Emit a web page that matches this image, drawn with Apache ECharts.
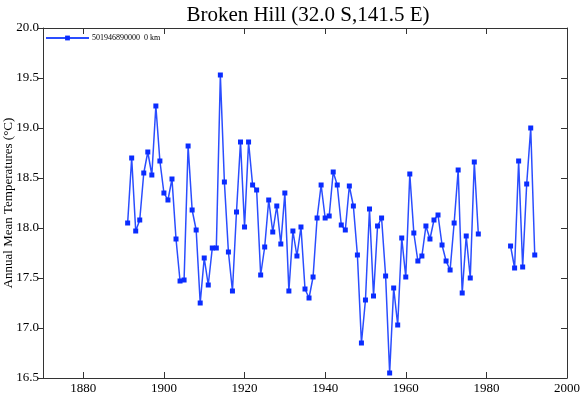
<!DOCTYPE html>
<html>
<head>
<meta charset="utf-8">
<script src="https://cdn.jsdelivr.net/npm/echarts@6/dist/echarts.min.js"></script>
<style>
  html, body { margin: 0; padding: 0; background: #fff; }
  #main { width: 580px; height: 395px; }
</style>
</head>
<body>
<div id="main"></div>
<script>
var stationName = '501946890000  0 km';
var firstYear = 1891;
// annual mean temperatures from 1891 on, null = missing year
var temps = [
    18.05, 18.70, 17.97, 18.08, 18.55, 18.76, 18.53, 19.22, 18.67,
    18.35, 18.28, 18.49, 17.89, 17.47, 17.48, 18.82, 18.18, 17.98, 17.25,
    17.70, 17.43, 17.80, 17.80, 19.53, 18.46, 17.76, 17.37, 18.16, 18.86,
    18.01, 18.86, 18.43, 18.38, 17.53, 17.81, 18.28, 17.96, 18.22, 17.84,
    18.35, 17.37, 17.97, 17.72, 18.01, 17.39, 17.30, 17.51, 18.10, 18.43,
    18.10, 18.12, 18.56, 18.43, 18.03, 17.98, 18.42, 18.22, 17.73, 16.85,
    17.28, 18.19, 17.32, 18.02, 18.10, 17.52, 16.55, 17.40, 17.03, 17.90,
    17.51, 18.54, 17.95, 17.67, 17.72, 18.02, 17.89, 18.08, 18.13, 17.83,
    17.67, 17.58, 18.05, 18.58, 17.35, 17.92, 17.50, 18.66, 17.94, null,
    null, null, null, null, null, null, 17.82, 17.60, 18.67, 17.61,
    18.44, 19.00, 17.73
];
var xTicks = [1880, 1900, 1920, 1940, 1960, 1980, 2000];

var seriesData = [];
for (var i = 0; i < temps.length; i++) {
    seriesData.push([firstYear + i, temps[i]]);
}

var serif = 'Liberation Serif';
var axisColor = '#333';

var myChart = echarts.init(document.getElementById('main'));
var option = {
    animation: false,
    title: {
        text: 'Broken Hill (32.0 S,141.5 E)',
        left: 303,
        textAlign: 'center',
        top: 0,
        textStyle: { fontFamily: serif, fontSize: 21, fontWeight: 'normal', color: '#000' }
    },
    legend: {
        left: 40,
        top: 29,
        itemWidth: 43,
        itemHeight: 6,
        itemGap: 4,
        textStyle: { fontFamily: serif, fontSize: 8, color: '#000', padding: [0, 0, 0, -2] },
        data: [stationName]
    },
    grid: { left: 43, right: 13, top: 28, bottom: 17, outerBoundsMode: 'none', containLabel: false },
    xAxis: [{
        type: 'value',
        min: 1870,
        max: 2000,
        position: 'bottom',
        splitLine: { show: false },
        axisLine: { lineStyle: { color: axisColor, width: 1 } },
        axisTick: { inside: true, length: 6, customValues: xTicks, lineStyle: { color: axisColor } },
        axisLabel: {
            customValues: xTicks, fontFamily: serif, fontSize: 13, color: '#000', margin: 4,
            formatter: function (v) { return String(v); }
        }
    }, {
        type: 'value',
        min: 1870,
        max: 2000,
        position: 'top',
        splitLine: { show: false },
        axisLine: { lineStyle: { color: axisColor, width: 1 } },
        axisTick: { inside: true, length: 6, customValues: xTicks, lineStyle: { color: axisColor } },
        axisLabel: { show: false }
    }],
    yAxis: [{
        type: 'value',
        min: 16.5,
        max: 20,
        interval: 0.5,
        position: 'left',
        name: 'Annual Mean Temperatures (°C)',
        nameLocation: 'middle',
        nameGap: 28,
        nameMoveOverlap: false,
        nameTextStyle: { fontFamily: serif, fontSize: 13, color: '#000' },
        splitLine: { show: false },
        axisLine: { show: true, lineStyle: { color: axisColor, width: 1 } },
        axisTick: { show: true, inside: false, length: 5, lineStyle: { color: axisColor } },
        axisLabel: {
            fontFamily: serif, fontSize: 13, color: '#000', margin: 4,
            formatter: function (v) { return v.toFixed(1); }
        }
    }, {
        type: 'value',
        min: 16.5,
        max: 20,
        interval: 0.5,
        position: 'right',
        splitLine: { show: false },
        axisLine: { show: true, lineStyle: { color: axisColor, width: 1 } },
        axisTick: { show: true, inside: true, length: 6, lineStyle: { color: axisColor } },
        axisLabel: { show: false }
    }],
    series: [{
        name: stationName,
        type: 'line',
        xAxisIndex: 0,
        yAxisIndex: 0,
        data: seriesData,
        connectNulls: false,
        symbol: 'rect',
        symbolSize: 5,
        lineStyle: { color: '#2a4dff', width: 1.5 },
        itemStyle: { color: '#0a2cff' }
    }]
};
myChart.setOption(option);
</script>
</body>
</html>
